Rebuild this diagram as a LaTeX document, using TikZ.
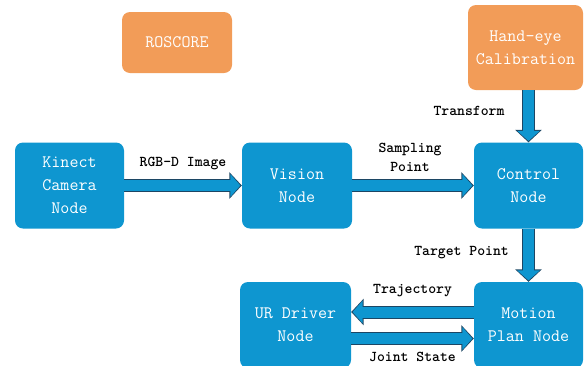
\documentclass[tikz,border=0pt]{standalone}
\usetikzlibrary{arrows.meta}

\definecolor{nodeblue}{RGB}{14,150,208}
\definecolor{nodeorange}{RGB}{242,156,88}
\definecolor{arrowline}{RGB}{28,70,100}

\tikzset{
    box/.style={rounded corners=8pt, minimum width=110pt, minimum height=86pt,
        align=center, text=white, inner sep=0pt,
        font=\ttfamily\fontsize{17.5}{23}\selectfont},
    bluebox/.style={box, fill=nodeblue},
    orangebox/.style={box, fill=nodeorange},
    blockarrow/.style={line width=11pt, draw=nodeblue, shorten >=1.4pt,
        -{Triangle[length=10pt, width=22pt]},
        preaction={draw=arrowline, line width=13pt, shorten >=0pt,
            -{Triangle[length=12.5pt, width=26pt]}}},
    lbl/.style={text=black, align=center,
        font=\ttfamily\bfseries\fontsize{15}{19}\selectfont},
}

\begin{document}
\begin{tikzpicture}[x=1pt, y=-1pt]
    \useasboundingbox (0, 0) rectangle (586, 365);

    % top row
    \node [orangebox, minimum height=61pt] (roscore) at (177, 42.5) {ROSCORE};
    \node [orangebox, minimum width=115pt, minimum height=85pt] (handeye) at (525.5, 47.5) {Hand-eye\\Calibration};

    % middle row
    \node [bluebox, minimum width=109pt] (kinect) at (69.5, 185.5) {Kinect\\Camera\\Node};
    \node [bluebox] (vision) at (297, 185.5) {Vision\\Node};
    \node [bluebox, minimum width=109pt] (control) at (528.5, 185.5) {Control\\Node};

    % bottom row
    \node [bluebox, minimum width=111pt] (urdriver) at (295.5, 325) {UR Driver\\Node};
    \node [bluebox, minimum width=109pt] (motion) at (528.5, 325) {Motion\\Plan Node};

    % connectors
    \draw [blockarrow] (kinect) -- (vision)
        node [lbl, midway, yshift=22pt] {RGB-D Image};
    \draw [blockarrow] (vision) -- (control)
        node [lbl, midway, xshift=-3pt, yshift=28pt] {Sampling\\Point};
    \draw [blockarrow] (control |- handeye.south) -- (control.north)
        node [lbl, midway, xshift=-59.5pt, yshift=5.5pt] {Transform};
    \draw [blockarrow] (control) -- (motion)
        node [lbl, midway, xshift=-67pt, yshift=3pt] {Target Point};
    \draw [blockarrow] ([yshift=13pt]motion.west) -- ([yshift=13pt]urdriver.east)
        node [lbl, midway, yshift=21pt] {Trajectory};
    \draw [blockarrow] ([yshift=-13.5pt]urdriver.east) -- ([yshift=-13.5pt]motion.west)
        node [lbl, midway, yshift=-18.5pt] {Joint State};
\end{tikzpicture}
\end{document}
